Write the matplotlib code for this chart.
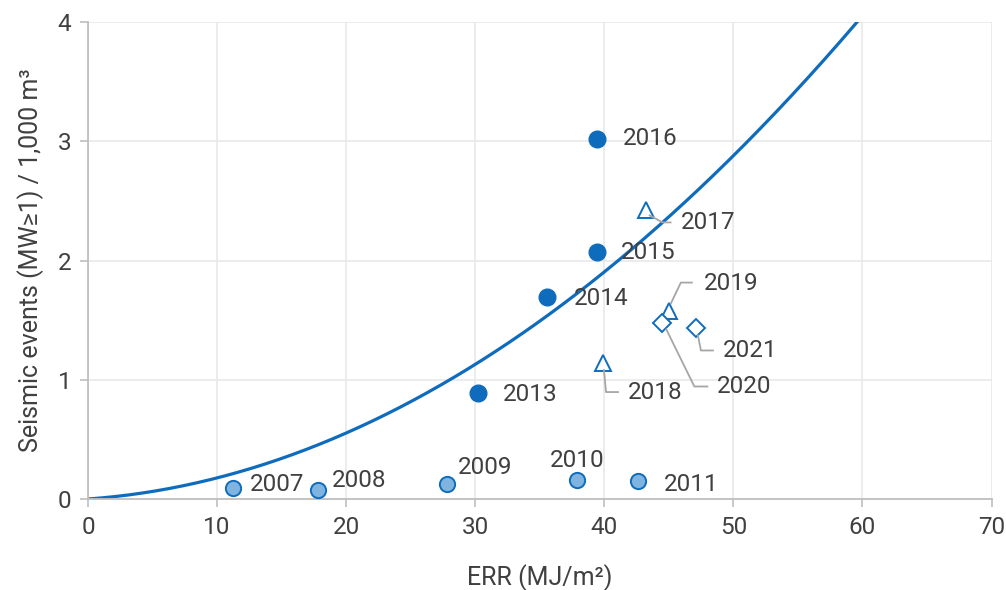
import numpy as np
import matplotlib
matplotlib.use("Agg")
import matplotlib.pyplot as plt
from matplotlib.lines import Line2D
from matplotlib.transforms import IdentityTransform

plt.rcParams['font.family'] = ['Roboto', 'DejaVu Sans']

# Annual points: energy release rate (MJ/m2) vs seismic events per 1,000 m3
early_years = ["2007", "2008", "2009", "2010", "2011"]
early_err = [11.2, 17.8, 27.8, 37.9, 42.6]
early_events = [0.092, 0.075, 0.126, 0.160, 0.150]

mid_years = ["2013", "2014", "2015", "2016"]
mid_err = [30.2, 35.6, 39.4, 39.4]
mid_events = [0.89, 1.69, 2.07, 3.02]

tri_years = ["2017", "2018", "2019"]
tri_err = [43.2, 39.9, 45.0]
tri_events = [2.42, 1.14, 1.58]

dia_years = ["2020", "2021"]
dia_err = [44.5, 47.1]
dia_events = [1.48, 1.43]

# Second-order trend through the origin: events = c1*ERR + c2*ERR^2
trend_c1 = 0.00772
trend_c2 = 0.000997

x_ticks = [0, 10, 20, 30, 40, 50, 60, 70]
y_ticks = [0, 1, 2, 3, 4]

BLUE = "#0f6cbd"
LIGHT = "#7fb3e0"
TEXT = "#404040"
AXIS = "#bfbfbf"
GRID = "#e9e9e9"

W, H = 1006, 590
fig = plt.figure(figsize=(W / 100, H / 100), dpi=100)
ax = fig.add_axes([88 / W, 1 - 499 / H, (991.5 - 88) / W, (499 - 22) / H])
ax.set_xlim(0, 70)
ax.set_ylim(0, 4)
ax.set_xticks(x_ticks)
ax.set_yticks(y_ticks)
ax.grid(True, color=GRID, linewidth=1.2, zorder=0)
ax.set_axisbelow(True)
for side in ("top", "right"):
    ax.spines[side].set_visible(False)
for side in ("left", "bottom"):
    ax.spines[side].set_color(AXIS)
    ax.spines[side].set_linewidth(1.3)
ax.tick_params(axis="both", colors=AXIS, labelcolor=TEXT, labelsize=17.5,
               length=6, width=1.2, pad=6)

ax.set_xlabel("ERR (MJ/m²)", fontsize=18, color=TEXT, labelpad=18)
ax.set_ylabel("Seismic events (MW≥1) / 1,000 m³", fontsize=18, color=TEXT,
              labelpad=10)

# Trend curve
xs = np.linspace(0, 70, 400)
ys = trend_c1 * xs + trend_c2 * xs ** 2
ax.plot(xs, ys, color=BLUE, linewidth=2.3, zorder=2, clip_on=True)

# Markers
ax.plot(early_err, early_events, "o", ms=11, mfc=LIGHT, mec=BLUE, mew=1.4,
        zorder=3, clip_on=False)
ax.plot(mid_err, mid_events, "o", ms=12, mfc=BLUE, mec=BLUE, zorder=3)
ax.plot(tri_err, tri_events, "^", ms=11, mfc="white", mec=BLUE, mew=1.4,
        zorder=3)
ax.plot(dia_err, dia_events, "D", ms=9.5, mfc="white", mec=BLUE, mew=1.4,
        zorder=3)

LABEL_SIZE = 17.5

# Label offsets in pixels from each point (x to text left edge, y up)
plain_offsets = {
    "2007": (17, 4), "2008": (14, 10), "2009": (11, 16), "2010": (-27, 19),
    "2011": (26, -3), "2013": (25, -2), "2014": (26, -1), "2015": (24, 0),
    "2016": (26, 0),
}
leader_offsets = {
    "2017": ((35, -12), [(4, -5), (17, -12), (25, -12)]),
    "2018": ((25, -29), [(1, -7), (3, -29), (15, -29)]),
    "2019": ((35, 27), [(2, 7), (12, 28), (23, 28)]),
    "2020": ((55, -64), [(4, -7), (32, -64), (45, -64)]),
    "2021": ((27, -22), [(2, -7), (5, -22), (17, -22)]),
}

points = {}
for yrs, xv, yv in ((early_years, early_err, early_events),
                    (mid_years, mid_err, mid_events),
                    (tri_years, tri_err, tri_events),
                    (dia_years, dia_err, dia_events)):
    for yr, xx, yy in zip(yrs, xv, yv):
        points[yr] = (xx, yy)

for yr, (xx, yy) in points.items():
    if yr in plain_offsets:
        off = plain_offsets[yr]
    else:
        off, path = leader_offsets[yr]
        px, py = ax.transData.transform((xx, yy))
        line = Line2D([px + dx for dx, _ in path], [py + dy for _, dy in path],
                      transform=IdentityTransform(), color="#a6a6a6",
                      linewidth=1.3, zorder=4)
        fig.add_artist(line)
    ax.annotate(yr, (xx, yy), xytext=off, textcoords="offset pixels",
                ha="left", va="center", fontsize=LABEL_SIZE, color=TEXT,
                zorder=5, annotation_clip=False)

fig.savefig("out.png", dpi=100, facecolor="white")
